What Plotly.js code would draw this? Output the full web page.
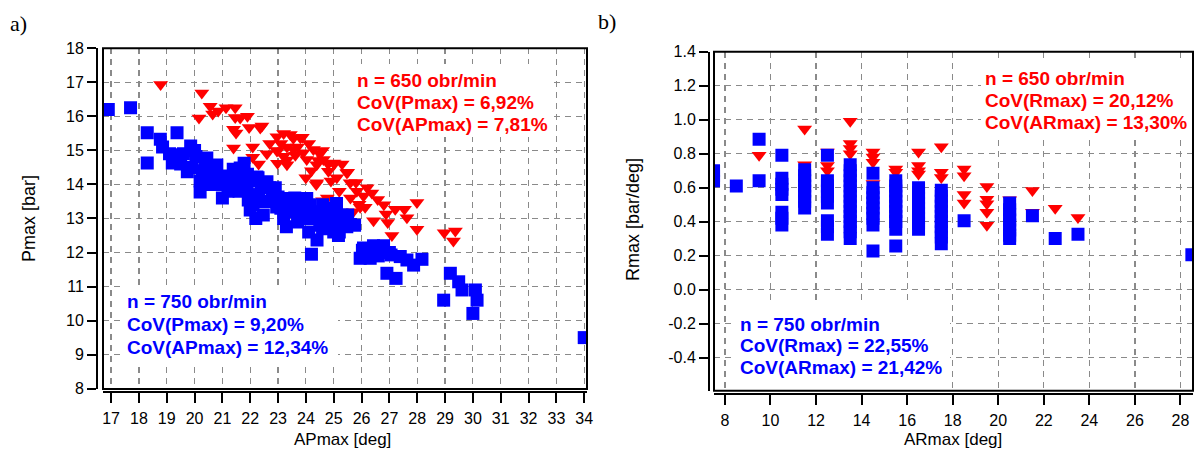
<!DOCTYPE html>
<html>
<head>
<meta charset="utf-8">
<script src="https://cdn.plot.ly/plotly-3.0.1.min.js"></script>
<style>html,body{margin:0;padding:0;background:#fff;}#chart{width:1201px;height:450px;}</style>
</head>
<body>
<div id="chart"></div>
<script>
// ---------- panel a): Pmax vs APmax ----------
const apmax750 = [16.9,17.7,18.3,18.3,18.77,18.85,19.37,19.2,19.47,19.74,19.86,20.05,20.2,20.2,20.28,20.37,20.44,20.74,20.8,21.0,21.16,21.16,21.39,21.64,21.7,21.76,21.78,21.88,21.93,22.0,22.1,22.24,22.28,22.47,22.6,22.7,22.8,22.95,23.0,23.2,23.3,23.33,23.44,23.6,23.68,23.9,24.03,24.03,24.15,24.2,24.4,24.5,24.6,24.87,24.98,25.1,25.14,25.17,25.47,25.6,25.75,25.95,26.03,26.07,26.31,26.43,26.79,26.91,27.06,27.24,27.39,27.63,27.87,28.17,28.95,29.19,29.49,29.61,30.09,30.15,30.0,34.0,21.3,22.3,22.5,21.5,22.9,24.3,24.7,25.3,25.0,19.6,20.6,21.0,23.5,23.8,
  19.5,19.9,20.0,20.5,20.6,20.9,21.2,21.4,21.9,22.1,22.4,22.7,23.1,23.5,23.9,24.2,24.5,24.9,25.3,25.5,23.7,22.2,24.1,19.1,20.3,21.6,22.0,23.2,24.6,25.2,26.2,26.6,27.0];
const pmax750  = [16.2,16.25,15.52,14.63,15.33,15.1,15.52,14.63,14.87,14.37,15.13,14.82,14.1,13.78,14.13,14.52,14.78,14.52,14.57,13.6,14.25,14.19,14.45,14.48,14.0,14.04,14.62,13.9,13.54,13.25,13.4,14.22,14.2,13.1,14.08,13.9,13.78,13.34,13.63,13.0,12.76,13.4,13.59,13.6,13.54,13.15,13.59,13.0,13.4,11.95,12.37,13.1,13.4,12.9,13.31,13.44,12.76,12.5,12.76,12.82,12.8,11.83,12.07,12.13,11.83,12.2,12.2,11.39,11.93,11.24,11.88,11.78,11.63,11.8,10.6,11.39,11.14,10.9,10.9,10.6,10.21,9.5,13.9,13.7,13.5,14.2,13.9,13.2,13.0,13.1,12.6,14.9,14.3,14.0,13.3,13.1,
  14.6,14.5,15.0,14.3,14.0,14.2,13.8,14.1,14.3,13.7,13.9,13.5,13.3,13.2,13.4,13.0,12.8,13.1,12.9,13.1,12.9,13.0,12.6,14.9,14.4,13.8,14.1,13.4,12.7,12.6,11.95,11.9,12.0];
const apmax650 = [18.78,20.26,20.16,20.56,20.65,20.85,21.13,21.46,21.46,21.4,21.49,21.4,21.64,21.9,21.96,22.09,22.09,22.3,22.36,22.42,22.96,22.96,23.2,23.44,23.32,23.32,23.2,22.98,23.32,23.55,23.55,23.62,23.8,23.9,24.03,24.27,24.39,24.39,24.44,24.63,24.81,25.0,25.11,25.47,25.59,25.83,25.91,26.07,24.6,25.4,24.77,24.37,25.5,25.8,25.95,26.13,26.37,26.58,26.43,26.88,26.94,27.09,27.21,27.54,27.63,27.99,27.99,28.97,29.37,29.3,24.8,25.02,23.87,
  23.1,23.7,24.1,24.6,24.2,24.9,25.3,24.0,25.2,25.6,26.2,22.7,22.6,23.0,24.5,25.7,26.8];
const pmax650  = [16.94,16.69,15.95,16.3,16.07,16.16,16.25,16.25,15.97,15.62,15.51,15.07,15.95,16.0,15.67,15.1,14.8,14.6,15.66,15.72,15.4,14.98,15.5,15.47,15.1,14.72,14.83,14.62,14.58,15.36,15.03,14.86,15.37,14.93,14.73,15.03,14.58,14.05,14.7,14.73,14.39,14.63,14.2,14.34,14.05,13.8,13.42,13.66,13.52,13.1,13.6,14.0,14.36,14.06,13.33,13.33,13.75,13.56,12.93,13.13,12.88,12.5,13.27,13.27,13.02,13.47,12.68,12.58,12.63,12.34,14.6,14.6,15.39,
  15.2,15.1,15.2,15.0,14.4,14.1,14.6,14.2,13.8,13.6,13.9,15.2,14.9,15.0,14.9,13.2,13.4];

// ---------- panel b): Rmax vs ARmax ----------
const armax750 = [7.5,7.5,7.5, 8.5, 9.5,9.5,
  10.5,10.5,10.5,10.5,10.5,10.5,10.5,10.5,
  11.5,11.5,11.5,11.5,11.5,11.5,11.5,11.5,
  12.5,12.5,12.5,12.5,12.5,12.5,12.5,12.5,12.5,
  13.5,13.5,13.5,13.5,13.5,13.5,13.5,13.5,13.5,13.5,13.5,13.5,13.5,13.5,13.5,
  14.5,14.5,14.5,14.5,14.5,14.5,14.5,14.5,14.5,14.5,
  15.5,15.5,15.5,15.5,15.5,15.5,15.5,15.5,15.5,15.5,15.5,
  16.5,16.5,16.5,16.5,16.5,16.5,16.5,16.5,16.5,
  17.5,17.5,17.5,17.5,17.5,17.5,17.5,17.5,17.5,17.5,17.5,
  18.5,
  20.5,20.5,20.5,20.5,20.5,20.5,20.5,20.5,
  21.5, 22.5, 23.5, 28.5];
const rmax750 = [0.70,0.67,0.64, 0.61, 0.885,0.64,
  0.79,0.655,0.62,0.59,0.56,0.455,0.42,0.38,
  0.705,0.67,0.64,0.61,0.58,0.55,0.52,0.48,
  0.79,0.64,0.61,0.58,0.55,0.51,0.405,0.37,0.325,
  0.735,0.70,0.67,0.64,0.61,0.58,0.55,0.52,0.49,0.46,0.43,0.40,0.37,0.34,0.30,
  0.685,0.60,0.57,0.54,0.51,0.48,0.45,0.42,0.38,0.227,
  0.64,0.61,0.58,0.55,0.52,0.49,0.46,0.43,0.40,0.355,0.256,
  0.60,0.57,0.54,0.51,0.48,0.45,0.42,0.39,0.355,
  0.585,0.55,0.52,0.49,0.46,0.43,0.40,0.37,0.34,0.31,0.27,
  0.405,
  0.51,0.47,0.44,0.41,0.38,0.35,0.32,0.30,
  0.435, 0.30, 0.325, 0.205];
const armax650 = [9.5, 11.5,11.5, 12.5,12.5,12.5, 13.5,13.5,13.5,13.5, 14.5,14.5,14.5,14.5,
  15.5,15.5, 16.5,16.5,16.5,16.5, 17.5,17.5,17.5, 18.5,18.5,18.5,18.5,
  19.5,19.5,19.5,19.5,19.5, 20.5, 21.5,21.5, 22.5, 23.5];
const rmax650 = [0.79, 0.945,0.735, 0.81,0.73,0.70, 0.99,0.86,0.83,0.80, 0.81,0.78,0.75,0.625,
  0.71,0.69, 0.81,0.73,0.70,0.68, 0.84,0.69,0.66, 0.71,0.67,0.56,0.51,
  0.607,0.531,0.505,0.455,0.378, 0.528, 0.583,0.455, 0.478, 0.425];

// ---------- ticks ----------
const aXTicks = [17,18,19,20,21,22,23,24,25,26,27,28,29,30,31,32,33,34];
const aYTicks = [8,9,10,11,12,13,14,15,16,17,18];
const bXTicks = [8,10,12,14,16,18,20,22,24,26,28];
const bYTicks = [-0.6,-0.4,-0.2,0.0,0.2,0.4,0.6,0.8,1.0,1.2,1.4];
const bYTickText = ['-0.6','-0.4','-0.2','0.0','0.2','0.4','0.6','0.8','1.0','1.2','1.4'];

// ---------- texts ----------
const aRedText = ['n = 650 obr/min','CoV(Pmax) = 6,92%','CoV(APmax) = 7,81%'];
const aBlueText = ['n = 750 obr/min','CoV(Pmax) = 9,20%','CoV(APmax) = 12,34%'];
const bRedText = ['n = 650 obr/min','CoV(Rmax) = 20,12%','CoV(ARmax) = 13,30%'];
const bBlueText = ['n = 750 obr/min','CoV(Rmax) = 22,55%','CoV(ARmax) = 21,42%'];

const RED = '#ff0000', BLUE = '#0000ff';
const W = 1201, H = 450;
const px = v => v / W;
const py = v => 1 - v / H;

// panel geometry (pixels) and ranges
const A = {x0:103, x1:587, y0:48.3, y1:389, xr:[16.71, 34.1], yr:[7.99, 18]};
const B = {x0:714, x1:1193, y0:51.7, y1:390.7, xr:[7.52, 28.55], yr:[-0.595, 1.4]};
const toDX = (P, X) => P.xr[0] + (X - P.x0) / (P.x1 - P.x0) * (P.xr[1] - P.xr[0]);
const toDY = (P, Y) => P.yr[1] - (Y - P.y0) / (P.y1 - P.y0) * (P.yr[1] - P.yr[0]);

const traces = [
  {x: apmax650, y: pmax650, xaxis:'x', yaxis:'y', type:'scatter', mode:'markers', name:'650 obr/min',
   marker:{symbol:'triangle-down', size:13, color:RED}},
  {x: apmax750, y: pmax750, xaxis:'x', yaxis:'y', type:'scatter', mode:'markers', name:'750 obr/min',
   marker:{symbol:'square', size:13, color:BLUE}},
  {x: armax650, y: rmax650, xaxis:'x2', yaxis:'y2', type:'scatter', mode:'markers', name:'650 obr/min',
   marker:{symbol:'triangle-down', size:13, color:RED}},
  {x: armax750, y: rmax750, xaxis:'x2', yaxis:'y2', type:'scatter', mode:'markers', name:'750 obr/min',
   marker:{symbol:'square', size:13, color:BLUE}}
];

const axisCommon = {
  showgrid:true, gridcolor:'#8a8a8a', gridwidth:1.2, griddash:'6px,5px',
  zeroline:false, showline:true, linecolor:'#000', linewidth:2,
  ticks:'outside', tickcolor:'#000', tickwidth:2,
  tickfont:{family:'Liberation Sans, Arial, sans-serif', size:16, color:'#000'},
  fixedrange:true
};

function lines(texts, xPx, yPxs, color, size) {
  return texts.map((t, i) => ({
    text: t, xref:'paper', yref:'paper', x: px(xPx), y: py(yPxs[i]),
    xanchor:'left', yanchor:'middle', showarrow:false,
    font:{family:'Liberation Sans, Arial, sans-serif', size:size, color:color, weight:'bold'}
  }));
}

const titleFont = {family:'Liberation Sans, Arial, sans-serif', size:17, color:'#000'};
const annotations = [
  ...lines(aRedText, 355, [80, 102.5, 124.5], RED, 19),
  ...lines(aBlueText, 125, [301.5, 324, 347], BLUE, 19),
  ...lines(bRedText, 983, [78, 100.7, 123], RED, 19),
  ...lines(bBlueText, 738, [324, 345.7, 367.7], BLUE, 19),
  {text:'APmax [deg]', xref:'paper', yref:'paper', x:px(342), y:py(439), xanchor:'center', yanchor:'middle', showarrow:false, font:titleFont},
  {text:'ARmax [deg]', xref:'paper', yref:'paper', x:px(953), y:py(439.5), xanchor:'center', yanchor:'middle', showarrow:false, font:titleFont},
  {text:'Pmax [bar]', xref:'paper', yref:'paper', x:px(29), y:py(219), xanchor:'center', yanchor:'middle', textangle:-90, showarrow:false, font:{family:'Liberation Sans, Arial, sans-serif', size:18, color:'#000'}},
  {text:'Rmax [bar/deg]', xref:'paper', yref:'paper', x:px(633), y:py(220), xanchor:'center', yanchor:'middle', textangle:-90, showarrow:false, font:{family:'Liberation Sans, Arial, sans-serif', size:18, color:'#000'}},
  {text:'a)', xref:'paper', yref:'paper', x:px(8), y:py(23), xanchor:'left', yanchor:'middle', showarrow:false, font:{family:'Liberation Serif, Times New Roman, serif', size:22, color:'#000'}},
  {text:'b)', xref:'paper', yref:'paper', x:px(596), y:py(22), xanchor:'left', yanchor:'middle', showarrow:false, font:{family:'Liberation Serif, Times New Roman, serif', size:22, color:'#000'}}
];

function whiteBox(P, xr, yr, X0, X1, Y0, Y1) {
  return {type:'rect', xref:xr, yref:yr, x0:toDX(P, X0), x1:toDX(P, X1), y0:toDY(P, Y1), y1:toDY(P, Y0),
          fillcolor:'#ffffff', line:{width:0}, layer:'between'};
}
function frame(xr, yr) {
  return {type:'rect', xref:xr + ' domain', yref:yr + ' domain', x0:0, x1:1, y0:0, y1:1,
          line:{color:'#000', width:2}, fillcolor:'rgba(0,0,0,0)', layer:'above'};
}

const layout = {
  width:W, height:H,
  margin:{l:0, r:0, t:0, b:0, pad:0},
  paper_bgcolor:'#fff', plot_bgcolor:'#fff',
  showlegend:false,
  font:{family:'Liberation Sans, Arial, sans-serif', size:16, color:'#000'},
  xaxis: Object.assign({}, axisCommon, {domain:[px(A.x0), px(A.x1)], range:A.xr, anchor:'free', position:py(392),
          tickvals:aXTicks, ticklen:10, ticklabelstandoff:2}),
  yaxis: Object.assign({}, axisCommon, {domain:[py(A.y1), py(A.y0)], range:A.yr, anchor:'free', position:px(97),
          tickvals:aYTicks, ticklen:9}),
  xaxis2: Object.assign({}, axisCommon, {domain:[px(B.x0), px(B.x1)], range:B.xr, anchor:'free', position:py(394),
          tickvals:bXTicks, ticklen:10, ticklabelstandoff:2}),
  yaxis2: Object.assign({}, axisCommon, {domain:[py(B.y1), py(B.y0)], range:B.yr, anchor:'free', position:px(709),
          tickvals:bYTicks, ticktext:bYTickText, ticklen:9}),
  shapes:[
    whiteBox(A, 'x', 'y', 345, 553, 64, 137),
    whiteBox(A, 'x', 'y', 120, 338, 285, 366),
    whiteBox(B, 'x2', 'y2', 981, 1193, 62, 140),
    whiteBox(B, 'x2', 'y2', 736, 950, 305, 389),
    frame('x','y'),
    frame('x2','y2')
  ],
  annotations: annotations
};

Plotly.newPlot('chart', traces, layout, {staticPlot:true, displayModeBar:false});
</script>
</body>
</html>
